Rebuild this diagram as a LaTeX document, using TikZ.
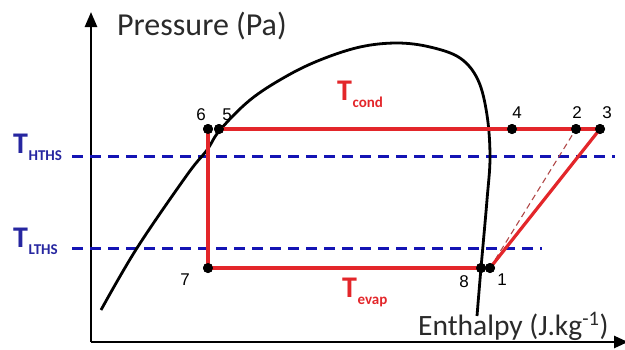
\documentclass[tikz,border=0pt]{standalone}
\usepackage{fontspec}
\setmainfont{Carlito}
\newfontfamily\numfont{Liberation Sans}
\usetikzlibrary{arrows.meta}
\definecolor{cred}{HTML}{E3262A}
\definecolor{cblue}{HTML}{1414B4}
\definecolor{tblue}{HTML}{2626A0}
\definecolor{dred}{HTML}{B04848}
\definecolor{tgray}{HTML}{2A2A2A}
\tikzset{
  axis/.style={line width=2.6pt, black},
  cycle/.style={line width=3.2pt, cred},
  iso/.style={line width=3pt, cblue, dash pattern=on 11pt off 7pt},
  ideal/.style={line width=1.1pt, dred, dash pattern=on 6pt off 4pt},
  sat/.style={line width=2.8pt, black},
  dot/.style={circle, fill=black, inner sep=0pt, minimum size=10pt},
  num/.style={anchor=base, font=\numfont\fontsize{17}{17}\selectfont, text=black},
  tlab/.style={anchor=base west, inner sep=0pt, font=\fontsize{30}{30}\selectfont\bfseries},
}
\newcommand{\Tsub}[1]{T\kern0.5pt\raisebox{-7pt}{\fontsize{15}{15}\selectfont #1}}
\begin{document}
\begin{tikzpicture}[x=1pt,y=-1pt]
\useasboundingbox (0,0) rectangle (625,349);
% axes
\coordinate (o) at (91,342);
\coordinate (ytop) at (91,12);
\coordinate (xend) at (628,342);
\draw[axis,-{Triangle[length=15pt,width=12pt]}] (o) -- (ytop);
\draw[axis,-{Triangle[length=14pt,width=12pt]}] (o) -- (xend);
\node[anchor=base west, inner sep=0pt, text=tgray, font=\fontsize{32}{32}\selectfont] (ylab) at (117,35) {Pressure (Pa)};
\node[anchor=base west, inner sep=0pt, text=tgray, font=\fontsize{29.5}{29.5}\selectfont] (xlab) at (418,335) {Enthalpy (J.kg\textsuperscript{-1})};
% isotherm lines
\coordinate (h1) at (72,156); \coordinate (h2) at (615,156);
\coordinate (l1) at (72,248); \coordinate (l2) at (542,248);
\draw[iso] (h1) -- (h2);
\draw[iso] (l1) -- (l2);
\node[tlab, text=tblue] (thths) at (13,153) {\Tsub{HTHS}};
\node[tlab, text=tblue] (tlths) at (13,247) {\Tsub{LTHS}};
% saturation curve
\draw[sat] plot[smooth, tension=0.6] coordinates {(101,310) (137,248) (187,175) (207,150) (220,130) (250,100) (285,77) (320,60) (360,47) (397,43) (430,47) (460,58) (478,80) (487,115) (490,157) (487,200) (481,268) (477,316)};
% cycle points
\node[dot] (p6) at (208,129) {};
\node[dot] (p5) at (219,129) {};
\node[dot] (p4) at (512,129) {};
\node[dot] (p2) at (576,129) {};
\node[dot] (p3) at (600,129) {};
\node[dot] (p7) at (208,268) {};
\node[dot] (p8) at (481,268) {};
\node[dot] (p1) at (490,268) {};
\draw[ideal] (p1.center) -- (p2.center);
\draw[cycle] (p5.center) -- (p3.center);
\draw[cycle] (p6.center) -- (p7.center) -- (p8.center);
\draw[cycle] (p1.center) -- (p3.center);
\foreach \p in {p6,p5,p4,p2,p3,p7,p8,p1} \node[dot] at (\p) {};
% labels
\node[num] (n6) at (201,120) {6};
\node[num] (n5) at (227,120) {5};
\node[num] (n4) at (517,118) {4};
\node[num] (n2) at (577,118) {2};
\node[num] (n3) at (607,118) {3};
\node[num] (n7) at (185,285) {7};
\node[num] (n8) at (464,287) {8};
\node[num] (n1) at (502,285) {1};
\node[tlab, text=cred] (tcond) at (337,100) {\Tsub{cond}};
\node[tlab, text=cred] (tevap) at (342,297) {\Tsub{evap}};
\end{tikzpicture}
\end{document}
